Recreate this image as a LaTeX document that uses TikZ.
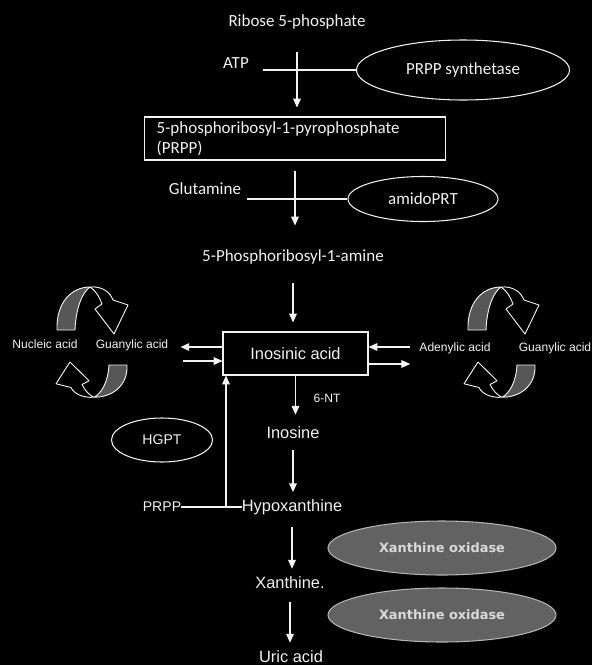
\documentclass[tikz,border=0pt]{standalone}
\usepackage{fontspec}
\setmainfont{Carlito}
\newfontfamily\arialfont{Liberation Sans}
\newfontfamily\verdfont{DejaVu Sans}
\usetikzlibrary{shapes.geometric,arrows.meta}
\definecolor{bgdark}{HTML}{000000}
\definecolor{ink}{HTML}{F2F2F2}
\definecolor{bandgray}{HTML}{575757}
\definecolor{oxfill}{HTML}{626262}
\definecolor{oxline}{HTML}{B4B4B4}
\definecolor{oxtext}{HTML}{DADADA}

\tikzset{
  cycarrow/.pic={
    \filldraw[fill=bandgray,draw=ink,line width=0.8pt,line join=round]
      (-35,20) .. controls (-36,-8) and (-20,-23) .. (-2,-23)
      .. controls (-9,-18) and (-16,-4) .. (-17,20) -- cycle;
    \draw[ink,line width=0.8pt,line join=round]
      (-2,-23) .. controls (10,-24) and (18,-18) .. (21,-10) -- (36,-5) -- (22,24)
      -- (3,-1) -- (10,-6) .. controls (7,-14) and (3,-20) .. (-2,-23);
  }
}

\begin{document}
\begin{tikzpicture}[x=0.03cm,y=-0.03cm,
    cal/.style={text=ink,inner sep=0pt,font=\fontsize{14.5}{17}\selectfont},
    ari/.style={text=ink,inner sep=0pt,font=\arialfont\fontsize{14}{16}\selectfont},
    small/.style={text=ink,inner sep=0pt,font=\arialfont\fontsize{10.3}{12}\selectfont},
    enz/.style={ellipse,draw=ink,line width=0.9pt,text=ink,inner sep=0pt},
    oxid/.style={ellipse,draw=oxline,fill=oxfill,line width=0.9pt,text=oxtext,
      minimum width=6.84cm,minimum height=1.62cm,inner sep=0pt,
      font=\verdfont\bfseries\fontsize{11}{13}\selectfont},
    box/.style={draw=ink,line width=0.9pt,text=ink},
    arr/.style={ink,line width=0.9pt,-{Triangle[width=6.5pt,length=7.5pt]}},
    link/.style={ink,line width=0.9pt}]

  \fill[bgdark] (0,0) rectangle (592,665);

  % PRPP synthesis
  \node[cal] (ribose) at (297,22) {Ribose 5-phosphate};
  \node[cal] (atp) at (236,63) {ATP};
  \node[enz,cal,minimum width=6.39cm,minimum height=1.8cm] (synth) at (463,70) {PRPP synthetase};
  \node[box,font=\fontsize{14.5}{17}\selectfont,text width=8.3cm,align=left,
    inner xsep=0.36cm,inner ysep=1pt,minimum height=1.29cm] (prpp) at (295,138.5)
    {5-phosphoribosyl-1-pyrophosphate\\(PRPP)};
  \node[cal] (glut) at (205,189) {Glutamine};
  \node[enz,cal,minimum width=4.5cm,minimum height=1.35cm] (amido) at (423,199) {amidoPRT};
  \node[cal] (amine) at (293,257) {5-Phosphoribosyl-1-amine};

  % IMP and side branches
  \node[box,ari,minimum width=4.35cm,minimum height=1.29cm] (inosinic) at (295.5,353.5) {Inosinic acid};
  \node[small] (nucleic) at (45,344) {Nucleic acid};
  \node[small] (guanL) at (132,345) {Guanylic acid};
  \node[small] (adenyl) at (455,348) {Adenylic acid};
  \node[small] (guanR) at (555,348) {Guanylic acid};
  \node[small] (nt) at (327,398) {6-NT};

  % degradation
  \node[ari] (inosine) at (293,433) {Inosine};
  \node[enz,font=\arialfont\fontsize{12}{14}\selectfont,minimum width=3.03cm,minimum height=1.32cm] (hgpt) at (162,440) {HGPT};
  \node[text=ink,inner sep=0pt,font=\arialfont\fontsize{12}{14}\selectfont] (prpp2) at (162,507) {PRPP};
  \node[ari] (hypo) at (292,507) {Hypoxanthine};
  \node[ari] (xanth) at (290,583) {Xanthine.};
  \node[ari] (uric) at (291,657) {Uric acid};
  \node[oxid] (ox1) at (442,548) {Xanthine oxidase};
  \node[oxid] (ox2) at (442,615) {Xanthine oxidase};

  % main chain
  \foreach \src/\dst/\gapa/\gapb in {ribose/prpp/0.66/0.27, prpp/amine/0.3/0.72,
      amine/inosinic/0.54/0.27, inosinic/inosine/0/0.36, inosine/hypo/0.33/0.21,
      hypo/xanth/0.36/0.24, xanth/uric/0.39/0.24}
    \draw[arr,shorten <=\gapa cm,shorten >=\gapb cm] (\src.south) -- (\src.south |- \dst.north);

  \draw[link,shorten <=0.42cm] (atp.east |- synth.west) -- (synth.west);
  \draw[link,shorten <=0.18cm] (glut.east |- amido.west) -- (amido.west);

  % salvage
  \coordinate (join) at (226,507);
  \draw[link] (prpp2.east) -- (hypo.west);
  \draw[arr] (join) -- (join |- inosinic.south);

  \draw[arr,shorten >=0.36cm] ([yshift=0.195cm]inosinic.west) -- ([yshift=0.195cm]inosinic.west -| guanL.east);
  \draw[arr,shorten <=0.45cm] ([yshift=-0.225cm]inosinic.west -| guanL.east) -- ([yshift=-0.225cm]inosinic.west);
  \draw[arr,shorten <=0.27cm] ([yshift=0.195cm]inosinic.east -| adenyl.west) -- ([yshift=0.195cm]inosinic.east);
  \draw[arr,shorten >=0.27cm] ([yshift=-0.315cm]inosinic.east) -- ([yshift=-0.315cm]inosinic.east -| adenyl.west);

  % cycles
  \foreach \cx/\cy in {92/310, 503/310}
    \pic at (\cx,\cy) {cycarrow};
  \foreach \cx/\cy in {92/380, 500/380}
    \pic[rotate=180,yscale=0.75] at (\cx,\cy) {cycarrow};
\end{tikzpicture}
\end{document}
